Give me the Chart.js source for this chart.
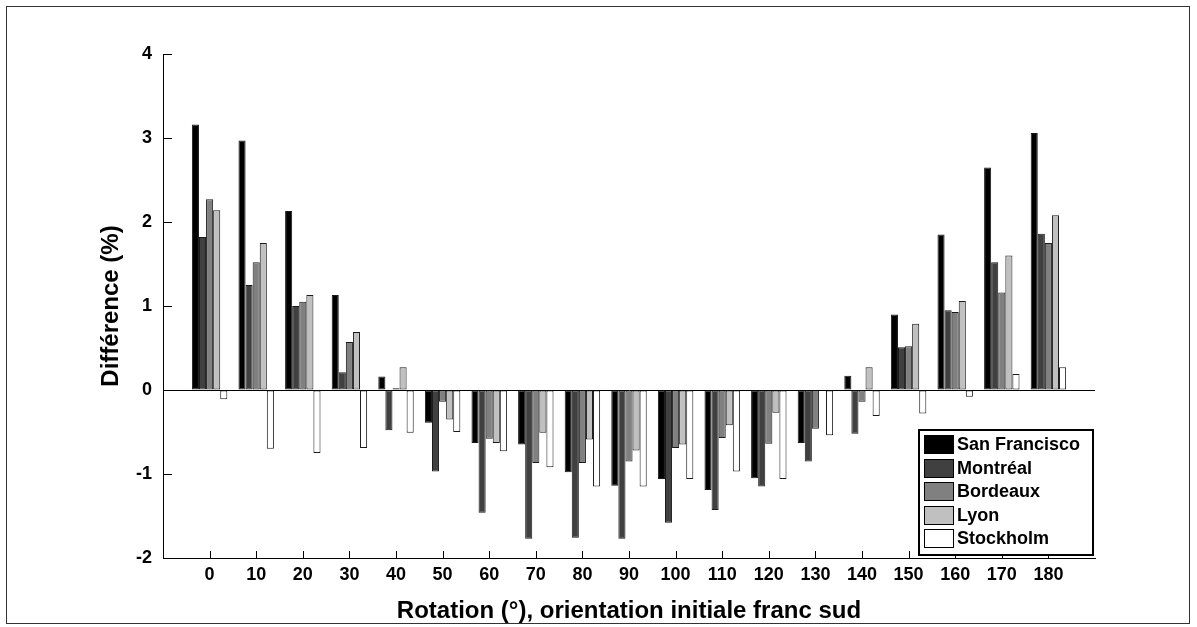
<!DOCTYPE html>
<html><head><meta charset="utf-8">
<script src="https://cdn.jsdelivr.net/npm/chart.js@4"></script>
<style>html,body{margin:0;padding:0;background:#fff}#wrap{width:1197px;height:627px;position:relative}</style>
</head><body><div id="wrap"><canvas id="c" width="1197" height="627"></canvas></div>
<script>
const rotations = [0,10,20,30,40,50,60,70,80,90,100,110,120,130,140,150,160,170,180];
const cities = ['San Francisco','Montréal','Bordeaux','Lyon','Stockholm'];
const sanFrancisco = [3.16,2.97,2.13,1.13,0.16,-0.39,-0.63,-0.65,-0.98,-1.14,-1.06,-1.19,-1.05,-0.63,0.17,0.90,1.85,2.65,3.06];
const montreal     = [1.82,1.25,1.00,0.21,-0.48,-0.97,-1.46,-1.77,-1.76,-1.77,-1.58,-1.43,-1.15,-0.85,-0.52,0.51,0.95,1.52,1.86];
const bordeaux     = [2.27,1.52,1.05,0.57,0.02,-0.14,-0.58,-0.87,-0.87,-0.85,-0.69,-0.57,-0.64,-0.46,-0.14,0.52,0.93,1.16,1.75];
const lyon         = [2.14,1.75,1.13,0.69,0.27,-0.35,-0.63,-0.51,-0.59,-0.72,-0.65,-0.42,-0.27,-0.01,0.27,0.79,1.06,1.60,2.08];
const stockholm    = [-0.11,-0.70,-0.75,-0.69,-0.51,-0.50,-0.73,-0.92,-1.15,-1.15,-1.06,-0.97,-1.06,-0.54,-0.31,-0.28,-0.08,0.19,0.27];
const yTicks = [-2,-1,0,1,2,3,4];
const seriesValues = [sanFrancisco, montreal, bordeaux, lyon, stockholm];
const colors = ['#000000','#404040','#808080','#c0c0c0','#ffffff'];
const FONT = "'Liberation Sans', Arial, Helvetica, sans-serif";

const decor = {
  id: 'decor',
  beforeDraw(chart) {
    const c = chart.ctx; c.save(); c.fillStyle = '#fff'; c.fillRect(0, 0, chart.width, chart.height); c.restore();
  },
  afterDraw(chart) {
    const c = chart.ctx, xs = chart.scales.x, ys = chart.scales.y, a = chart.chartArea;
    c.save();
    c.strokeStyle = '#000'; c.lineWidth = 1;
    rotations.forEach(v => {
      const px = Math.round(xs.getPixelForValue(v)) + 0.5;
      c.beginPath(); c.moveTo(px, a.bottom); c.lineTo(px, a.bottom - 7); c.stroke();
    });
    yTicks.forEach(v => {
      const py = Math.round(ys.getPixelForValue(v)) + 0.5;
      c.beginPath(); c.moveTo(a.left, py); c.lineTo(a.left + 9, py); c.stroke();
    });
    // outer frame
    c.strokeStyle = '#333'; c.lineWidth = 1;
    c.strokeRect(6.5, 6.5, 1183, 617);
    // legend
    const bw = 174, bh = 125;
    const bx = a.right - 2 - bw, by = a.bottom - 3 - bh;
    c.fillStyle = '#fff'; c.fillRect(bx, by, bw, bh);
    c.strokeStyle = '#000'; c.lineWidth = 2;
    c.strokeRect(bx, by, bw, bh);
    c.lineWidth = 1;
    c.font = 'bold 18px ' + FONT; c.textBaseline = 'middle'; c.textAlign = 'left';
    chart.data.datasets.forEach((ds, i) => {
      const top = Math.round(by + 5 + i * 23.6);
      c.fillStyle = ds.backgroundColor; c.fillRect(bx + 5, top, 30, 19);
      c.strokeStyle = '#000'; c.strokeRect(bx + 5.5, top + 0.5, 29, 18);
      c.fillStyle = '#000'; c.fillText(ds.label, bx + 38, top + 10);
    });
    c.restore();
  }
};

new Chart(document.getElementById('c'), {
  type: 'bar',
  data: {
    labels: rotations,
    datasets: cities.map((name, i) => ({
      label: name,
      data: seriesValues[i],
      backgroundColor: colors[i],
      borderColor: '#1a1a1a',
      borderWidth: 1,
      borderSkipped: false,
      categoryPercentage: 0.76,
      barPercentage: 1.0
    }))
  },
  options: {
    responsive: false,
    animation: false,
    devicePixelRatio: 1,
    layout: { padding: { left: 0, top: 54, right: 102, bottom: 0 } },
    plugins: { legend: { display: false }, tooltip: { enabled: false } },
    scales: {
      x: {
        type: 'linear', min: -10, max: 190, offset: false,
        afterFit: s => { s.height = 69; },
        grid: { display: false, drawTicks: false, offset: false },
        border: { display: true, color: '#000', width: 1 },
        ticks: {
          stepSize: 10, autoSkip: false, maxRotation: 0, padding: 6, color: '#000',
          font: { family: FONT, size: 18, weight: 'bold' },
          callback: v => (v < 0 || v > 180) ? '' : String(v)
        },
        title: { display: true, text: 'Rotation (°), orientation initiale franc sud', color: '#000',
          font: { family: FONT, size: 24, weight: 'bold' }, padding: { top: 0, bottom: 1 } }
      },
      y: {
        min: -2, max: 4,
        afterFit: s => { s.width = 163; },
        grid: { drawTicks: false, color: ctx => (ctx.tick && ctx.tick.value === 0) ? '#000' : 'rgba(0,0,0,0)', lineWidth: 1 },
        border: { display: true, color: '#000', width: 1 },
        ticks: { stepSize: 1, padding: 11, color: '#000', font: { family: FONT, size: 18, weight: 'bold' } },
        title: { display: true, text: 'Différence (%)', color: '#000',
          font: { family: FONT, size: 24, weight: 'bold' }, padding: { top: 97, bottom: 0 } }
      }
    }
  },
  plugins: [decor]
});
</script>
</body></html>
